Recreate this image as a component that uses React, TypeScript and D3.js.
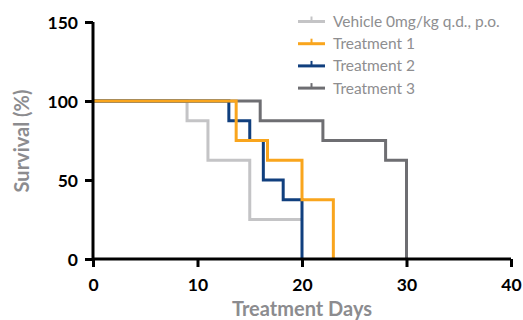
import React, { useEffect, useRef } from 'react';
import * as d3 from 'd3';

// Kaplan-Meier style survival curves
const seriesNames = ['Vehicle 0mg/kg q.d., p.o.', 'Treatment 1', 'Treatment 2', 'Treatment 3'];
const seriesColors = ['#c4c4c6', '#f9a51d', '#103f7e', '#6e6e72'];

const vehicleDays = [0, 9, 11, 15, 20];
const vehicleSurvival = [100, 87.5, 62.5, 25, 25];
const t1Days = [0, 13.7, 16.7, 20, 23];
const t1Survival = [100, 75, 62.5, 37.5, 0];
const t2Days = [0, 13, 15, 16.3, 18.2, 20];
const t2Survival = [100, 87.5, 75, 50, 37.5, 0];
const t3Days = [0, 16, 22, 28, 30];
const t3Survival = [100, 87.5, 75, 62.5, 0];

const xTicks = [0, 10, 20, 30, 40];
const yTicks = [0, 50, 100, 150];

// draw order: vehicle, T3, T2, then T1 on top
const drawOrder = [0, 3, 2, 1];

const App = () => {
  const ref = useRef<SVGSVGElement | null>(null);

  useEffect(() => {
    const width = 523;
    const height = 320;
    const margin = { top: 22, right: 12, bottom: 61, left: 93 };

    const svg = d3.select(ref.current);
    svg.selectAll('*').remove();

    const x = d3.scaleLinear().domain([0, 40]).range([margin.left, width - margin.right]);
    const y = d3.scaleLinear().domain([0, 150]).range([height - margin.bottom, margin.top]);

    const allDays = [vehicleDays, t1Days, t2Days, t3Days];
    const allSurv = [vehicleSurvival, t1Survival, t2Survival, t3Survival];

    const line = d3
      .line<[number, number]>()
      .x((d) => x(d[0]))
      .y((d) => y(d[1]))
      .curve(d3.curveStepAfter);

    drawOrder.forEach((i) => {
      const pts = allDays[i].map((d, j) => [d, allSurv[i][j]] as [number, number]);
      svg
        .append('path')
        .datum(pts)
        .attr('d', line)
        .attr('fill', 'none')
        .attr('stroke', seriesColors[i])
        .attr('stroke-width', 3)
        .attr('stroke-linejoin', 'miter');
    });

    // axes
    const xAxis = svg
      .append('g')
      .attr('transform', `translate(0,${y(0)})`)
      .call(d3.axisBottom(x).tickValues(xTicks).tickSize(8).tickPadding(5));
    const yAxis = svg
      .append('g')
      .attr('transform', `translate(${x(0)},0)`)
      .call(d3.axisLeft(y).tickValues(yTicks).tickSize(8).tickPadding(7));

    [xAxis, yAxis].forEach((g) => {
      g.select('.domain').attr('stroke', '#000').attr('stroke-width', 3);
      g.selectAll('.tick line').attr('stroke', '#000').attr('stroke-width', 3);
      g.selectAll('.tick text')
        .attr('fill', '#000')
        .attr('font-family', 'Lato, sans-serif')
        .attr('font-weight', 700)
        .attr('font-size', 17.5);
    });
    xAxis.select('.domain').attr('d', `M${x(0)},0H${x(40)}`);
    yAxis.select('.domain').attr('d', `M0,${y(0)}V${y(150)}`);
    xAxis.selectAll('.tick text').attr('dy', '1.1em');
    yAxis.selectAll('.tick text').attr('dy', '0.36em');

    // axis titles
    svg
      .append('text')
      .attr('x', (x(0) + x(40)) / 2)
      .attr('y', 316)
      .attr('text-anchor', 'middle')
      .attr('fill', '#8c8c8f')
      .attr('font-family', 'Lato, sans-serif')
      .attr('font-weight', 700)
      .attr('font-size', 20)
      .text('Treatment Days');

    svg
      .append('text')
      .attr('transform', `translate(29,${141}) rotate(-90)`)
      .attr('text-anchor', 'middle')
      .attr('fill', '#8c8c8f')
      .attr('font-family', 'Lato, sans-serif')
      .attr('font-weight', 700)
      .attr('font-size', 20)
      .text('Survival (%)');

    // legend
    const legend = svg.append('g');
    seriesNames.forEach((name, i) => {
      const ly = 21.5 + i * 22.2;
      const row = legend.append('g');
      row
        .append('line')
        .attr('x1', 298)
        .attr('x2', 325)
        .attr('y1', ly)
        .attr('y2', ly)
        .attr('stroke', seriesColors[i])
        .attr('stroke-width', 3);
      row
        .append('line')
        .attr('x1', 311.5)
        .attr('x2', 311.5)
        .attr('y1', ly)
        .attr('y2', ly - 5)
        .attr('stroke', seriesColors[i])
        .attr('stroke-width', 2);
      row
        .append('text')
        .attr('x', 333)
        .attr('y', ly + 5.5)
        .attr('fill', '#8e8e90')
        .attr('font-family', 'Lato, sans-serif')
        .attr('font-size', 15.5)
        .text(name);
    });
  }, []);

  return (
    <div style={{ position: 'absolute', left: 0, top: 0 }}>
      <svg ref={ref} width={523} height={320} style={{ display: 'block', background: '#fff' }} />
    </div>
  );
};

export default App;
